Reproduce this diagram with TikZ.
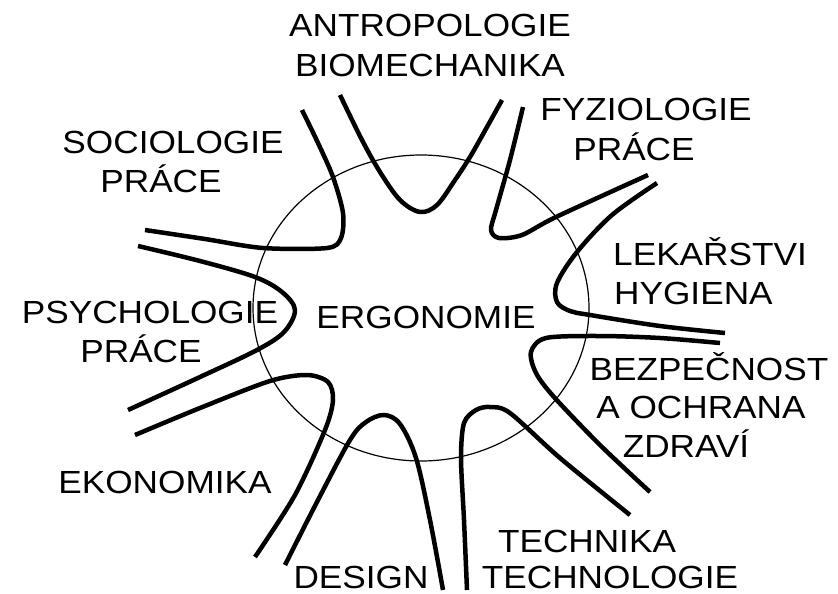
\documentclass[tikz,border=0pt]{standalone}
\usepackage{fontspec}
\newfontfamily\lblfont[FakeStretch=1.1]{Liberation Sans}
\begin{document}
\begin{tikzpicture}[x=1pt,y=-1pt,
  petal/.style={line width=4.5pt, line join=round},
  ring/.style={line width=1.2pt},
  lbl/.style={anchor=base, inner sep=0pt, font=\lblfont\fontsize{32}{39}\selectfont}]
\useasboundingbox (0,0) rectangle (838,594);
% thin circle
\draw[ring] (421,308) ellipse [x radius=168, y radius=153];
% petals
\draw[petal] plot[smooth, tension=0.55] coordinates {(340,95) (362,140) (380,172) (400,200) (420,212) (437,205) (455,180) (470,157) (487,127) (502,100)};
\draw[petal] plot[smooth, tension=0.5] coordinates {(302,110) (318,143) (333,177) (343,213) (341,238) (327,248) (263,248) (205,239) (145,230)};
\draw[petal] plot[smooth, tension=0.55] coordinates {(138,246) (200,261) (255,277) (282,292) (295,310) (284,332) (257,350) (200,377) (128,410)};
\draw[petal] plot[smooth, tension=0.5] coordinates {(135,435) (200,408) (270,381) (307,375) (328,382) (333,400) (325,430) (295,495) (255,557)};
\draw[petal] plot[smooth, tension=0.55] coordinates {(285,565) (318,500) (350,440) (366,422) (384,415) (400,424) (416,458) (430,520) (443,590)};
\draw[petal] plot[smooth, tension=0.5] coordinates {(467,590) (464,520) (461,458) (464,423) (476,410) (490,407) (510,413) (560,458) (630,515)};
\draw[petal] plot[smooth, tension=0.5] coordinates {(720,343) (660,338) (600,336) (546,338) (531,352) (536,373) (554,397) (600,445) (650,492)};
\draw[petal] plot[smooth, tension=0.55] coordinates {(657,183) (612,215) (577,252) (557,283) (557,302) (570,311) (590,315) (660,326) (725,333)};
\draw[petal] plot[smooth, tension=0.5] coordinates {(523,107) (510,160) (496,210) (491,230) (499,238) (522,235) (556,217) (648,175)};
% labels
\node[lbl] (ergo) at (426,328) {ERGONOMIE};
\node[lbl] (antroA) at (430,37) {ANTROPOLOGIE};
\node[lbl] (antroB) at (430,77) {BIOMECHANIKA};
\node[lbl] (socA) at (173,153) {SOCIOLOGIE};
\node[lbl] (socB) at (161,192) {PRÁCE};
\node[lbl] (fyzA) at (646,120) {FYZIOLOGIE};
\node[lbl] (fyzB) at (634,160) {PRÁCE};
\node[lbl, anchor=base west] (lekA) at (613,265) {LEKAŘSTVI};
\node[lbl, anchor=base west] (lekB) at (614,304) {HYGIENA};
\node[lbl] (bezA) at (709,380) {BEZPEČNOST};
\node[lbl] (bezB) at (701,418) {A OCHRANA};
\node[lbl] (bezC) at (686,457) {ZDRAVÍ};
\node[lbl] (techA) at (587,552) {TECHNIKA};
\node[lbl] (techB) at (610,588) {TECHNOLOGIE};
\node[lbl] (design) at (361,588) {DESIGN};
\node[lbl] (eko) at (165,493) {EKONOMIKA};
\node[lbl] (psyA) at (150,323) {PSYCHOLOGIE};
\node[lbl] (psyB) at (141,362) {PRÁCE};
\end{tikzpicture}
\end{document}
